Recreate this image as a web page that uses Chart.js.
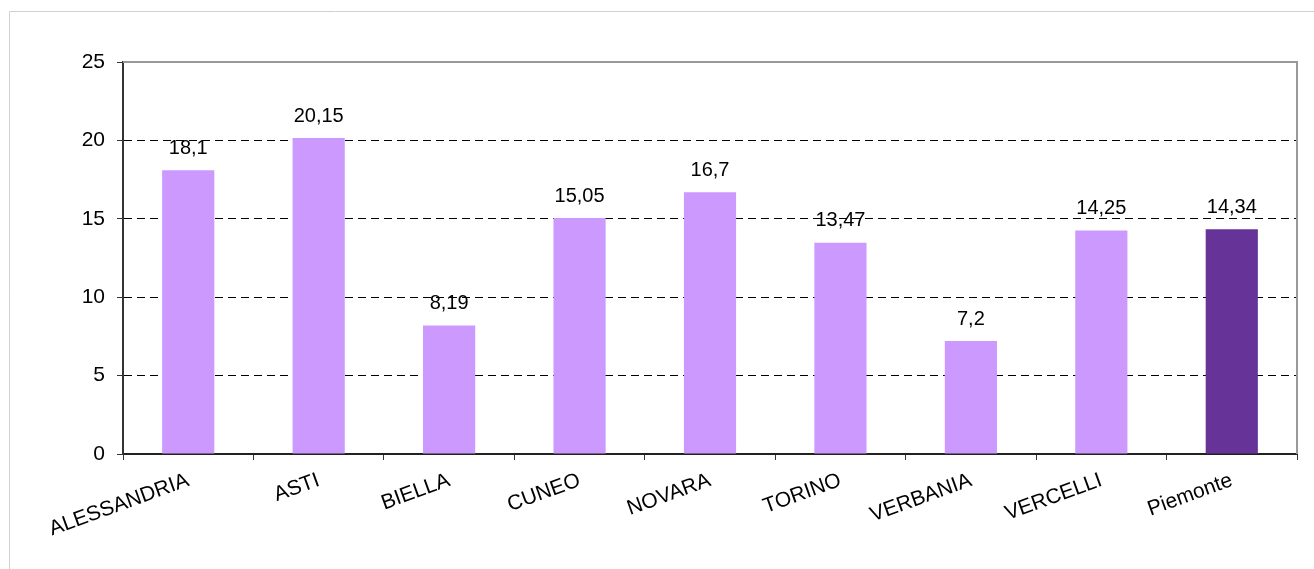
<!DOCTYPE html>
<html><head><meta charset="utf-8">
<script src="https://cdn.jsdelivr.net/npm/chart.js@4/dist/chart.umd.min.js"></script>
<style>
html,body{margin:0;padding:0;background:#fff;}
#wrap{position:relative;width:1314px;height:569px;}
</style></head>
<body><div id="wrap"><canvas id="c" width="1314" height="569"></canvas></div>
<script>
const categories = ['ALESSANDRIA','ASTI','BIELLA','CUNEO','NOVARA','TORINO','VERBANIA','VERCELLI','Piemonte'];
const values = [18.1, 20.15, 8.19, 15.05, 16.7, 13.47, 7.2, 14.25, 14.34];
const valueLabels = ['18,1','20,15','8,19','15,05','16,7','13,47','7,2','14,25','14,34'];
const yTicks = [0,5,10,15,20,25];
const barColors = ['#CC99FF','#CC99FF','#CC99FF','#CC99FF','#CC99FF','#CC99FF','#CC99FF','#CC99FF','#663399'];

const FONT = '"Liberation Sans", Arial, sans-serif';

const framePlugin = {
  id: 'frame',
  beforeDraw(chart) {
    const ctx = chart.ctx;
    ctx.save();
    ctx.fillStyle = '#fff';
    ctx.fillRect(0,0,chart.width,chart.height);
    ctx.strokeStyle = '#d0d0d0';
    ctx.lineWidth = 1;
    ctx.beginPath();
    ctx.moveTo(9.5, chart.height);
    ctx.lineTo(9.5, 11.5);
    ctx.lineTo(chart.width, 11.5);
    ctx.stroke();
    ctx.restore();
  },
  afterDatasetsDraw(chart) {
    const ctx = chart.ctx;
    const a = chart.chartArea;
    ctx.save();
    ctx.strokeStyle = '#999999';
    ctx.lineWidth = 2;
    ctx.beginPath();
    ctx.moveTo(a.left, a.top);
    ctx.lineTo(a.right, a.top);
    ctx.lineTo(a.right, a.bottom);
    ctx.stroke();
    const meta = chart.getDatasetMeta(0);
    ctx.fillStyle = '#000';
    ctx.font = '20px ' + FONT;
    ctx.textAlign = 'center';
    ctx.textBaseline = 'middle';
    meta.data.forEach((bar, i) => {
      ctx.fillText(valueLabels[i], bar.x, bar.y - 22);
    });
    ctx.restore();
  }
};

new Chart(document.getElementById('c'), {
  type: 'bar',
  data: {
    labels: categories,
    datasets: [{
      data: values,
      backgroundColor: barColors,
      borderWidth: 0,
      categoryPercentage: 1.0,
      barPercentage: 0.4
    }]
  },
  options: {
    responsive: false,
    animation: false,
    layout: { padding: { top: 62, right: 17, left: 0, bottom: 0 } },
    plugins: { legend: { display: false }, tooltip: { enabled: false } },
    scales: {
      x: {
        offset: true,
        grid: { display: true, drawOnChartArea: false, offset: true, tickLength: 6, tickColor: '#333', lineWidth: 1 },
        border: { color: '#222', width: 2 },
        ticks: {
          minRotation: 20, maxRotation: 20, autoSkip: false, padding: 8,
          color: '#000',
          font: { family: FONT, size: 21 }
        },
        afterFit(scale) { scale.height = 115; }
      },
      y: {
        min: 0, max: 25,
        afterBuildTicks(scale) { scale.ticks = yTicks.map(v => ({ value: v })); },
        grid: {
          color: (ctx) => (ctx.tick && (ctx.tick.value === 0 || ctx.tick.value === 25)) ? 'rgba(0,0,0,0)' : '#000',
          lineWidth: 1,
          tickLength: 6,
          tickColor: '#333',
          tickBorderDash: []
        },
        border: { color: '#333', width: 2, dash: [8, 5] },
        ticks: { color: '#000', padding: 12, font: { family: FONT, size: 21 } },
        afterFit(scale) { scale.width = 123; }
      }
    }
  },
  plugins: [framePlugin]
});
</script></body></html>
